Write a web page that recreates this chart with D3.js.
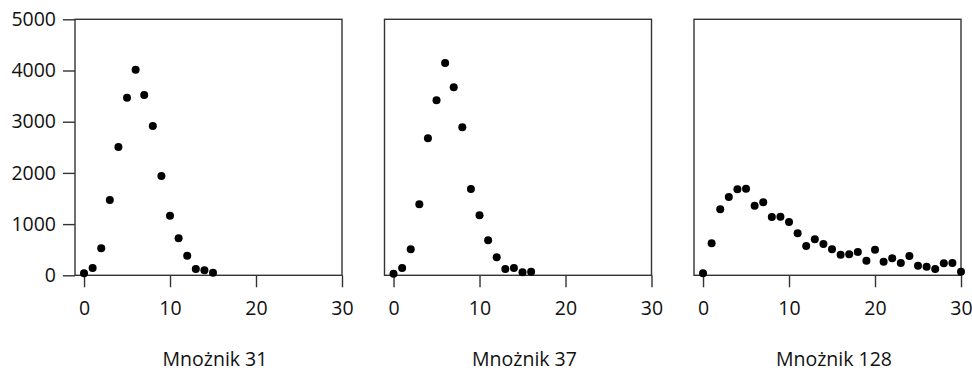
<!DOCTYPE html>
<html>
<head>
<meta charset="utf-8">
<script src="https://cdn.jsdelivr.net/npm/d3@7"></script>
<style>
	body { margin: 0; background: #fff; }
	svg text { font-family: 'Open Sans', sans-serif; fill: #111; }
	.axis path { display: none; }
	.axis line { stroke: #333; stroke-width: 1.4; }
</style>
</head>
<body>
<div class="scatter-chart"></div>
<script>
// panel titles
const titles = ['Mnożnik 31', 'Mnożnik 37', 'Mnożnik 128'];
// counts, one value per x = 0, 1, 2, ...
const seriesM31 = [39, 143, 527, 1471, 2506, 3469, 4016, 3521, 2916, 1939, 1165, 722, 384, 123, 97, 51];
const seriesM37 = [31, 143, 508, 1387, 2676, 3418, 4146, 3672, 2891, 1686, 1172, 684, 352, 123, 143, 59, 70];
const seriesM128 = [39, 625, 1289, 1529, 1680, 1691, 1359, 1426, 1139, 1145, 1041, 820, 572, 703, 611, 508,
	402, 410, 455, 285, 500, 266, 332, 240, 377, 188, 168, 123, 234, 240, 70];
const xTicks = [0, 10, 20, 30];
const yTicks = [0, 1000, 2000, 3000, 4000, 5000];

const width = 972;
const height = 371;
const margin = { top: 19.3, left: 75 };
const panelWidth = 267;
const panelHeight = 256;
const panelStep = 309.5;
const fontSize = 19.5;

const svg = d3
	.select('.scatter-chart')
	.append('svg')
	.attr('width', width)
	.attr('height', height);

const y = d3
	.scaleLinear()
	.domain([0, 5000])
	.range([margin.top + panelHeight, margin.top]);

[seriesM31, seriesM37, seriesM128].forEach((values, i) => {
	const left = margin.left + i * panelStep;
	const x = d3
		.scaleLinear()
		.domain([-1.05, 30])
		.range([left, left + panelWidth]);

	const g = svg.append('g');

	g.append('rect')
		.attr('x', left)
		.attr('y', margin.top)
		.attr('width', panelWidth)
		.attr('height', panelHeight)
		.attr('fill', 'none')
		.attr('stroke', '#333')
		.attr('stroke-width', 1.4);

	g.append('g')
		.attr('class', 'axis')
		.attr('transform', 'translate(0,' + y(0) + ')')
		.call(
			d3.axisBottom(x).tickValues(xTicks).tickFormat(d3.format('d')).tickSize(12).tickPadding(14)
		)
		.attr('font-size', fontSize);

	if (i === 0) {
		g.append('g')
			.attr('class', 'axis')
			.attr('transform', 'translate(' + left + ',0)')
			.call(
				d3.axisLeft(y).tickValues(yTicks).tickFormat(d3.format('d')).tickSize(12).tickPadding(7)
			)
			.attr('font-size', fontSize);
	}

	g.selectAll('.dot')
		.data(values)
		.enter()
		.append('circle')
		.attr('class', 'dot')
		.attr('cx', (d, k) => x(k))
		.attr('cy', d => y(d))
		.attr('r', 4)
		.attr('fill', '#000');

	g.append('text')
		.attr('x', (x(0) + x(30)) / 2 + 2)
		.attr('y', 366)
		.attr('text-anchor', 'middle')
		.attr('font-size', fontSize)
		.text(titles[i]);
});
</script>
</body>
</html>
